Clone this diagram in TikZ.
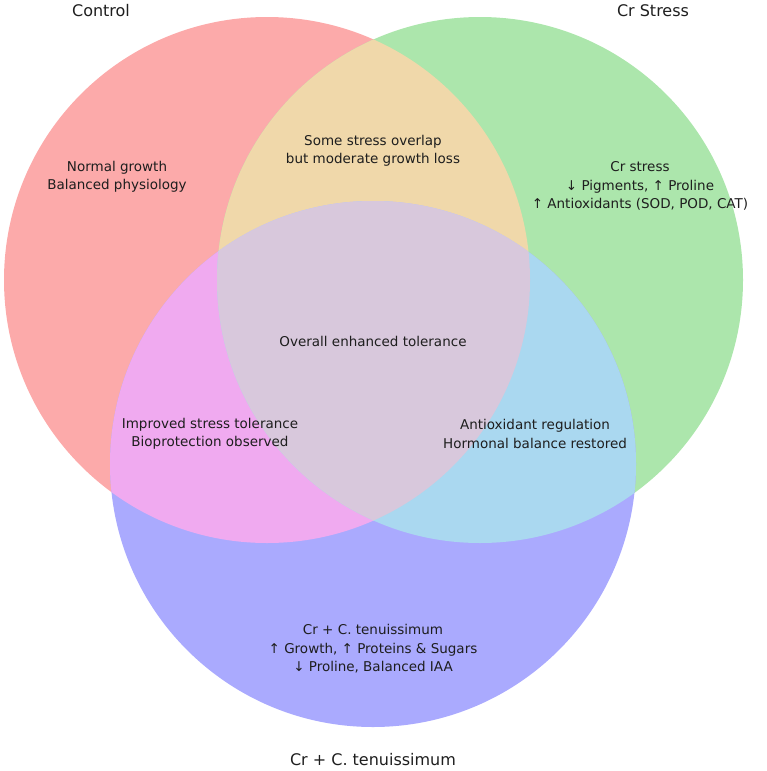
\documentclass[tikz,border=0pt]{standalone}
\usepackage{fontspec}
\setmainfont{DejaVu Sans}
\definecolor{regR}{RGB}{252,170,170}
\definecolor{regG}{RGB}{172,230,172}
\definecolor{regB}{RGB}{170,170,254}
\definecolor{regRG}{RGB}{240,216,170}
\definecolor{regRB}{RGB}{240,170,240}
\definecolor{regGB}{RGB}{170,216,240}
\definecolor{regRGB}{RGB}{216,200,220}
\definecolor{txt}{RGB}{30,30,30}
\tikzset{
  lbl/.style={align=center, text=txt, font=\fontsize{13.5}{18.5}\selectfont},
  ttl/.style={text=txt, font=\fontsize{16}{19}\selectfont}
}
\begin{document}
\begin{tikzpicture}[x=1pt, y=-1pt]
\def\rad{263}
\useasboundingbox (0,0) rectangle (767,771);

\coordinate (cr) at (267,280);
\coordinate (cg) at (480,280);
\coordinate (cb) at (373,464);

% single sets
\fill[regR] (cr) circle (\rad);
\fill[regG] (cg) circle (\rad);
\fill[regB] (cb) circle (\rad);
% pairs
\begin{scope}
  \clip (cr) circle (\rad);
  \fill[regRG] (cg) circle (\rad);
  \fill[regRB] (cb) circle (\rad);
\end{scope}
\begin{scope}
  \clip (cg) circle (\rad);
  \fill[regGB] (cb) circle (\rad);
\end{scope}
% triple
\begin{scope}
  \clip (cr) circle (\rad);
  \clip (cg) circle (\rad);
  \fill[regRGB] (cb) circle (\rad);
\end{scope}

\node[ttl] (control) at (101,11) {Control};
\node[ttl] (stress) at (653,11) {Cr Stress};
\node[ttl] (treat) at (373,760) {Cr + C. tenuissimum};

\node[lbl] (r) at (117,177) {Normal growth\\Balanced physiology};
\node[lbl] (rg) at (373,151) {Some stress overlap\\but moderate growth loss};
\node[lbl] (g) at (640,186) {Cr stress\\↓ Pigments, ↑ Proline\\↑ Antioxidants (SOD, POD, CAT)};
\node[lbl] (rgb) at (373,341) {Overall enhanced tolerance};
\node[lbl] (rb) at (210,434) {Improved stress tolerance\\Bioprotection observed};
\node[lbl] (gb) at (535,434) {Antioxidant regulation\\Hormonal balance restored};
\node[lbl] (b) at (373,649) {Cr + C. tenuissimum\\↑ Growth, ↑ Proteins \& Sugars\\↓ Proline, Balanced IAA};
\end{tikzpicture}
\end{document}
